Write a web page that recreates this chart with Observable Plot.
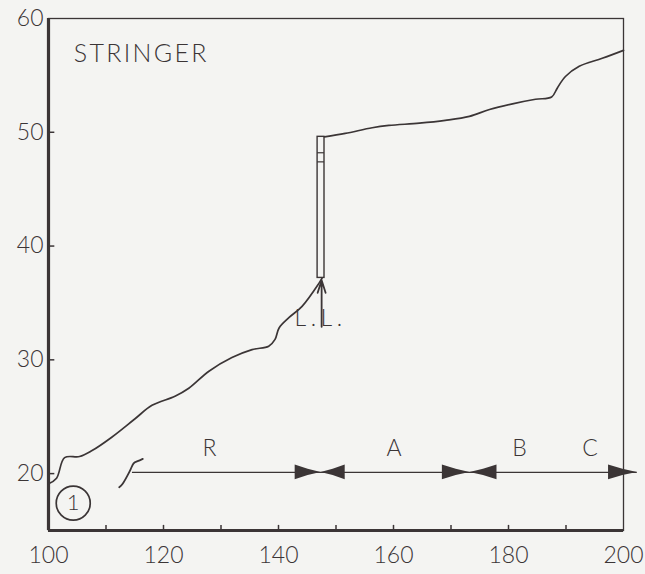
<!DOCTYPE html>
<html>
<head>
<meta charset="utf-8">
<script src="https://cdn.jsdelivr.net/npm/d3@7"></script>
<script src="https://cdn.jsdelivr.net/npm/@observablehq/plot@0.6"></script>
<style>
  html, body { margin: 0; padding: 0; background: #f4f4f2; }
  #chart { width: 645px; height: 574px; }
</style>
</head>
<body>
<div id="chart"></div>
<script>
// Curve below the L.L. marker
const lowX = [100, 101.4, 102.8, 105.4, 107.5, 111, 115, 118, 122, 124.4, 127.9, 131.9, 135.4, 138.3, 139.4, 140.1, 141.8, 144.1, 147.0, 147.6];
const lowY = [19.1, 19.6, 21.4, 21.5, 22.0, 23.2, 24.8, 26.0, 26.8, 27.5, 29.0, 30.2, 30.9, 31.2, 31.8, 32.8, 33.7, 34.7, 36.7, 37.2];
// Curve above the L.L. marker
const highX = [148.0, 151.6, 156.3, 159.2, 164.5, 169, 173.2, 176.7, 180.7, 184.7, 187.5, 188.5, 189.9, 192.3, 196.3, 200];
const highY = [49.6, 49.9, 50.4, 50.6, 50.8, 51.05, 51.4, 52.0, 52.5, 52.9, 53.1, 53.9, 54.9, 55.8, 56.5, 57.2];

// L.L. bar
const barX = [146.8, 148.0];
const barY = [37.2, 49.6];
const barDividers = [48.2, 47.4];

// Break symbol at start of range line
const breakX = [112.3, 112.9, 113.7, 114.3, 114.8, 115.5, 116.4];
const breakY = [18.8, 19.1, 19.8, 20.4, 20.9, 21.1, 21.3];

// Range line and arrowheads
const rangeY = 20.1;
const rangeStart = 114.6;
const rangeEnd = 202.4;
const arrowFrom = [142.9, 151.6, 168.5, 178.0, 197.4];
const arrowTip  = [147.4, 147.4, 173.3, 173.3, 202.4];
const arrowHalf = 0.65;

const zoneLabels = ["R", "A", "B", "C"];
const zoneX = [128, 160.1, 181.9, 194.2];
const zoneY = 22.2;

const xTickLabels = [100, 120, 140, 160, 180, 200];
const xTickMarks = [110, 120, 130, 140, 150, 160, 170, 180, 190];
const yTickLabels = [20, 30, 40, 50, 60];
const yTickMarks = [20, 30, 40, 50];

const ink = "#3b3536";
const font = "Lato";
const weight = 300;

const lowData = lowX.map((x, i) => ({x, y: lowY[i]}));
const highData = highX.map((x, i) => ({x, y: highY[i]}));
const breakData = breakX.map((x, i) => ({x, y: breakY[i]}));
const triData = arrowFrom.flatMap((f, i) => [
  {id: i, x: f, y1: rangeY - arrowHalf, y2: rangeY + arrowHalf},
  {id: i, x: (f + arrowTip[i]) / 2, y1: rangeY - arrowHalf * 0.42, y2: rangeY + arrowHalf * 0.42},
  {id: i, x: arrowTip[i], y1: rangeY, y2: rangeY}
]);

const chart = Plot.plot({
  width: 645,
  height: 574,
  marginLeft: 48,
  marginRight: 22,
  marginTop: 18,
  marginBottom: 44,
  style: {background: "#f4f4f2", fontFamily: font, color: ink, overflow: "visible"},
  x: {domain: [100, 200], label: null},
  y: {domain: [15, 60], label: null},
  marks: [
    Plot.frame({stroke: ink, strokeWidth: 1.3}),
    Plot.ruleX([100], {stroke: ink, strokeWidth: 3.2}),
    Plot.ruleY([15], {stroke: ink, strokeWidth: 3.2}),
    Plot.ruleY(yTickMarks, {x1: 100, x2: 101.1, stroke: ink, strokeWidth: 1.5}),
    Plot.ruleX(xTickMarks, {y1: 15, y2: 15.45, stroke: ink, strokeWidth: 1.5}),
    Plot.axisX(xTickLabels, {tickSize: 0, tickPadding: 16, fontSize: 23, fontWeight: weight, fill: ink, label: null}),
    Plot.axisY(yTickLabels, {anchor: "left", tickSize: 0, tickPadding: 5, fontSize: 23, fontWeight: weight, fill: ink, label: null}),
    Plot.line(lowData, {x: "x", y: "y", stroke: ink, strokeWidth: 1.7, curve: "catmull-rom"}),
    Plot.line(highData, {x: "x", y: "y", stroke: ink, strokeWidth: 1.7, curve: "catmull-rom"}),
    Plot.rect([{x1: barX[0], x2: barX[1], y1: barY[0], y2: barY[1]}], {x1: "x1", x2: "x2", y1: "y1", y2: "y2", fill: "none", stroke: ink, strokeWidth: 1.4}),
    Plot.ruleY(barDividers, {x1: barX[0], x2: barX[1], stroke: ink, strokeWidth: 1.2}),
    Plot.arrow([{x1: 147.5, y1: 32.9, x2: 147.5, y2: 37.0}], {x1: "x1", y1: "y1", x2: "x2", y2: "y2", stroke: ink, strokeWidth: 1.8, headLength: 11, headAngle: 35}),
    Plot.text(["L.L."], {x: 142.8, y: 33.6, textAnchor: "start", fontSize: 23, fontWeight: weight, fill: ink}),
    Plot.text(["STRINGER"], {x: 104.4, y: 56.9, textAnchor: "start", fontSize: 25, fontWeight: weight, fill: ink}),
    Plot.line(breakData, {x: "x", y: "y", stroke: ink, strokeWidth: 1.8, curve: "natural"}),
    Plot.ruleY([rangeY], {x1: rangeStart, x2: rangeEnd, stroke: ink, strokeWidth: 1.2}),
    Plot.areaY(triData, {x: "x", y1: "y1", y2: "y2", z: "id", fill: ink, curve: "linear"}),
    Plot.text(zoneLabels, {x: (d, i) => zoneX[i], y: zoneY, fontSize: 23, fontWeight: weight, fill: ink}),
    Plot.dot([{x: 104.3, y: 17.4}], {x: "x", y: "y", r: 17, stroke: ink, strokeWidth: 1.7, fill: "none"}),
    Plot.text(["1"], {x: 104.3, y: 17.4, fontSize: 22, fontWeight: weight, fill: ink})
  ]
});
// letter spacing for the two spaced labels
const spacing = {"STRINGER": "2.3px", "L.L.": "4.5px"};
d3.select(chart).selectAll("text").each(function() {
  const s = spacing[this.textContent];
  if (s) this.setAttribute("letter-spacing", s);
});
document.getElementById("chart").appendChild(chart);
</script>
</body>
</html>
